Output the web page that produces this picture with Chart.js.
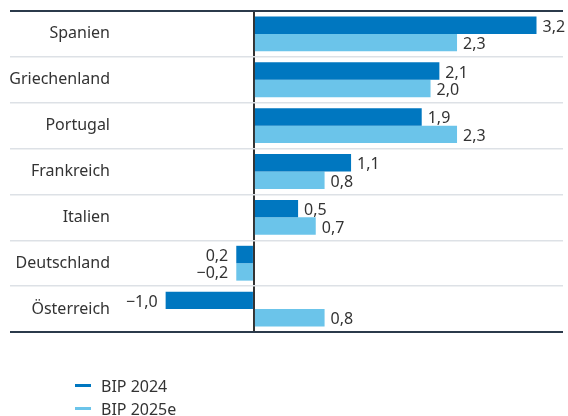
<!DOCTYPE html>
<html>
<head>
<meta charset="utf-8">
<script src="https://cdn.jsdelivr.net/npm/chart.js@4"></script>
<style>
    html, body { margin: 0; padding: 0; background: #fff; overflow: hidden; }
    #wrap { position: relative; width: 568px; height: 416px; }
    #legend {
        position: absolute; left: 75px; top: 374px;
        font-family: 'Noto Sans', sans-serif; font-size: 16px; color: #333;
    }
    .item { display: flex; align-items: center; height: 23px; }
    .swatch { width: 16px; height: 3px; margin-right: 10px; }
</style>
</head>
<body>
<div id="wrap">
    <canvas id="chart" width="568" height="416"></canvas>
    <div id="legend"></div>
</div>
<script>
const countries = ['Spanien', 'Griechenland', 'Portugal', 'Frankreich', 'Italien', 'Deutschland', 'Österreich'];
const bip2024 = [3.2, 2.1, 1.9, 1.1, 0.5, -0.2, -1.0];
const bip2025 = [2.3, 2.0, 2.3, 0.8, 0.7, -0.2, 0.8];
// value labels as printed in the source
const text2024 = ['3,2', '2,1', '1,9', '1,1', '0,5', '0,2', '\u22121,0'];
const text2025 = ['2,3', '2,0', '2,3', '0,8', '0,7', '\u22120,2', '0,8'];
const seriesNames = ['BIP 2024', 'BIP 2025e'];
const colors = ['#0077c0', '#6bc4ea'];

const FONT = "'Noto Sans', sans-serif";

// draws the number next to each bar
const valueLabels = {
    id: 'valueLabels',
    afterDatasetsDraw(chart) {
        const ctx = chart.ctx;
        const texts = [text2024, text2025];
        ctx.save();
        ctx.font = '16px ' + FONT;
        ctx.fillStyle = '#333';
        ctx.textBaseline = 'middle';
        chart.data.datasets.forEach((ds, di) => {
            chart.getDatasetMeta(di).data.forEach((bar, i) => {
                const v = ds.data[i];
                if (v >= 0) {
                    ctx.textAlign = 'left';
                    ctx.fillText(texts[di][i], bar.x + 6, bar.y + 2);
                } else {
                    ctx.textAlign = 'right';
                    ctx.fillText(texts[di][i], bar.x - 8, bar.y + 2);
                }
            });
        });
        ctx.restore();
    },
};

// outer lines (first and closing one) are dark, inner ones light
const isEdge = (c) => c.index === 0 || c.index === undefined;

const chart = new Chart(document.getElementById('chart'), {
    type: 'bar',
    data: {
        labels: countries,
        datasets: [
            { label: seriesNames[0], data: bip2024, backgroundColor: colors[0] },
            { label: seriesNames[1], data: bip2025, backgroundColor: colors[1] },
        ],
    },
    options: {
        indexAxis: 'y',
        responsive: false,
        animation: false,
        layout: { padding: { left: 10, right: 5, top: 11, bottom: 84 } },
        datasets: { bar: { categoryPercentage: 0.76, barPercentage: 1.0 } },
        scales: {
            x: {
                min: -1.63,
                max: 3.5,
                ticks: { display: false, stepSize: 0.5 },
                border: { display: false },
                grid: {
                    drawTicks: false,
                    color: (c) => (c.tick && c.tick.value === 0 ? '#333' : 'rgba(0,0,0,0)'),
                    lineWidth: 2,
                },
                afterFit: (s) => { s.height = 0; },
            },
            y: {
                border: { display: false },
                ticks: {
                    padding: -100,
                    color: '#333',
                    font: { family: FONT, size: 16 },
                },
                grid: {
                    offset: true,
                    drawTicks: true,
                    tickLength: 100,
                    color: (c) => (isEdge(c) ? '#2b3a4b' : '#dde1e6'),
                    lineWidth: (c) => (isEdge(c) ? 2 : 1.5),
                },
                afterFit: (s) => { s.width = 100; },
            },
        },
        plugins: {
            legend: { display: false },
            tooltip: { enabled: false },
        },
    },
    plugins: [valueLabels],
});

// legend below the chart
const legend = document.getElementById('legend');
chart.data.datasets.forEach((ds) => {
    const item = document.createElement('div');
    item.className = 'item';
    const sw = document.createElement('span');
    sw.className = 'swatch';
    sw.style.background = ds.backgroundColor;
    const label = document.createElement('span');
    label.textContent = ds.label;
    item.append(sw, label);
    legend.append(item);
});
</script>
</body>
</html>
